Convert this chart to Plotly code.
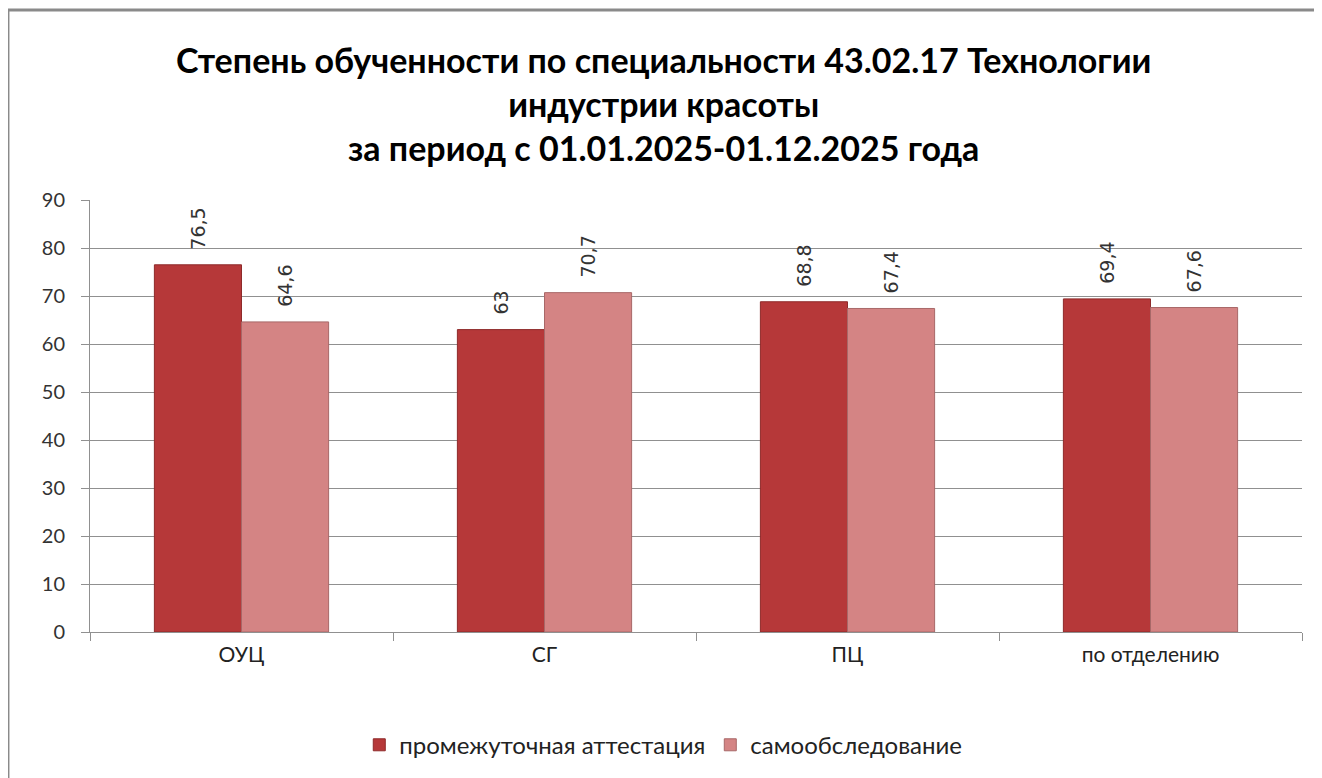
import plotly.graph_objects as go

categories = ['ОУЦ', 'СГ', 'ПЦ', 'по отделению']
attestation = [76.5, 63, 68.8, 69.4]
self_check = [64.6, 70.7, 67.4, 67.6]
y_ticks = [0, 10, 20, 30, 40, 50, 60, 70, 80, 90]


def fmt(v):
    # excel-style decimal comma, padded so the label sits a bit above the bar
    return '\u00a0\u00a0' + f"{v:g}".replace('.', ',')


FONT = 'Lato, Calibri, sans-serif'

fig = go.Figure(
    data=[
        go.Bar(
            name='промежуточная аттестация',
            x=categories,
            y=attestation,
            text=[fmt(v) for v in attestation],
            marker=dict(color='#B63839', line=dict(color='#8E2A2A', width=1)),
        ),
        go.Bar(
            name='самообследование',
            x=categories,
            y=self_check,
            text=[fmt(v) for v in self_check],
            marker=dict(color='#D48484', line=dict(color='#A86868', width=1)),
        ),
    ]
)

fig.update_traces(
    textposition='outside',
    textangle=-90,
    cliponaxis=False,
    textfont=dict(family='DejaVu Sans, sans-serif', size=19, color='#333333'),
)

fig.update_layout(
    width=1322,
    height=778,
    paper_bgcolor='white',
    plot_bgcolor='white',
    font=dict(family=FONT, color='#333333'),
    barmode='group',
    bargap=0.425,
    bargroupgap=0,
    margin=dict(l=82, r=28, t=192, b=154),
    showlegend=True,
    legend=dict(
        orientation='h',
        x=0.473,
        xanchor='center',
        y=-0.262,
        yanchor='middle',
        font=dict(family=FONT, size=24, color='#222222'),
        traceorder='normal',
        itemwidth=30,
    ),
    yaxis=dict(
        range=[0, 90],
        tickvals=y_ticks,
        showgrid=True,
        gridcolor='#909090',
        gridwidth=1,
        showline=True,
        linecolor='#909090',
        ticks='outside',
        ticklen=8,
        tickcolor='#909090',
        ticklabelstandoff=12,
        tickfont=dict(family=FONT, size=20, color='#333333'),
        zeroline=False,
    ),
    xaxis=dict(
        showline=True,
        linecolor='#909090',
        ticks='outside',
        tickson='boundaries',
        ticklen=8,
        tickcolor='#909090',
        tickfont=dict(family=FONT, size=21, color='#222222'),
        ticklabelstandoff=4,
    ),
    annotations=[
        dict(
            text='Степень обученности по специальности 43.02.17 Технологии<br>'
                 'индустрии красоты<br>'
                 'за период с 01.01.2025-01.12.2025 года',
            xref='paper', yref='paper',
            x=0.473, y=1.2245,
            xanchor='center', yanchor='middle',
            showarrow=False,
            font=dict(family=FONT, size=34, color='black', weight='bold'),
        )
    ],
    shapes=[
        dict(
            type='rect',
            xref='paper', yref='paper',
            x0=-0.0677, x1=1.2,
            y0=-0.5, y1=1.44,
            line=dict(color='#8a8a8a', width=3),
            fillcolor='rgba(0,0,0,0)',
            layer='below',
        )
    ],
)

fig.write_html('out.html')
